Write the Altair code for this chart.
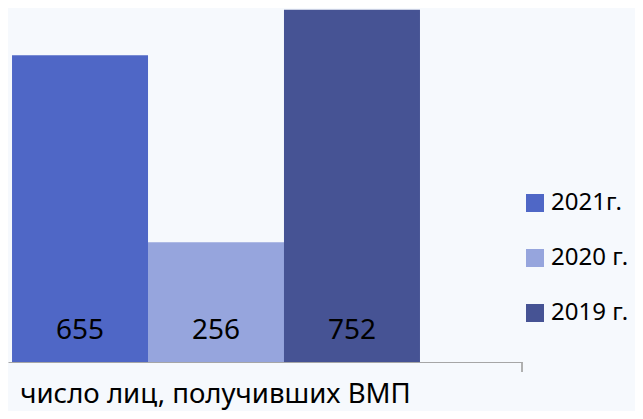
import altair as alt
import pandas as pd

series = ["2021г.", "2020 г.", "2019 г."]
values = [655, 256, 752]
colors = ["#4F67C6", "#96A5DD", "#465394"]
category = "число лиц, получивших ВМП"

df = pd.DataFrame({"series": series, "value": values})

FONT = "Noto Sans"
W, H = 514, 354

x = alt.X("series:N", sort=series,
          scale=alt.Scale(paddingInner=0, paddingOuter=0.39, align=0.038),
          axis=alt.Axis(title=category, labels=False, ticks=False,
                        domainColor="#a6a6a6", domainWidth=1,
                        titleFont=FONT, titleFontSize=27.6, titleFontWeight="normal",
                        titleColor="#000000", titleX=207, titleY=40,
                        titleAlign="center", titleBaseline="alphabetic"))
y = alt.Y("value:Q", scale=alt.Scale(domain=[0, 756], nice=False), axis=None)

bars = alt.Chart(df).mark_bar(size=136).encode(
    x=x, y=y,
    color=alt.Color("series:N", sort=series,
                    scale=alt.Scale(domain=series, range=colors),
                    legend=alt.Legend(title=None, orient="none", legendX=515, legendY=183,
                                      padding=0, symbolType="square", symbolSize=324,
                                      symbolStrokeWidth=0, symbolOffset=0,
                                      labelFont=FONT, labelFontSize=24,
                                      labelColor="#000000", labelOffset=4,
                                      rowPadding=31)),
)

labels = alt.Chart(df).mark_text(font=FONT, fontSize=28, color="#000000",
                                 baseline="middle", dy=-31).encode(
    x=alt.X("series:N", sort=series),
    y=alt.datum(0),
    text="value:Q",
)

tick = alt.Chart(df).mark_rule(color="#a6a6a6").encode(
    x=alt.value(514), y=alt.value(354), y2=alt.value(364)
)

chart = alt.layer(bars, labels, tick).properties(
    width=W, height=H, background="#f6f9fd",
    autosize=alt.AutoSizeParams(type="none"),
    padding={"left": 0, "top": 0, "right": 113, "bottom": 49},
).configure_view(stroke=None)

chart.save("out.html", embed_options={"renderer": "svg", "actions": False})
